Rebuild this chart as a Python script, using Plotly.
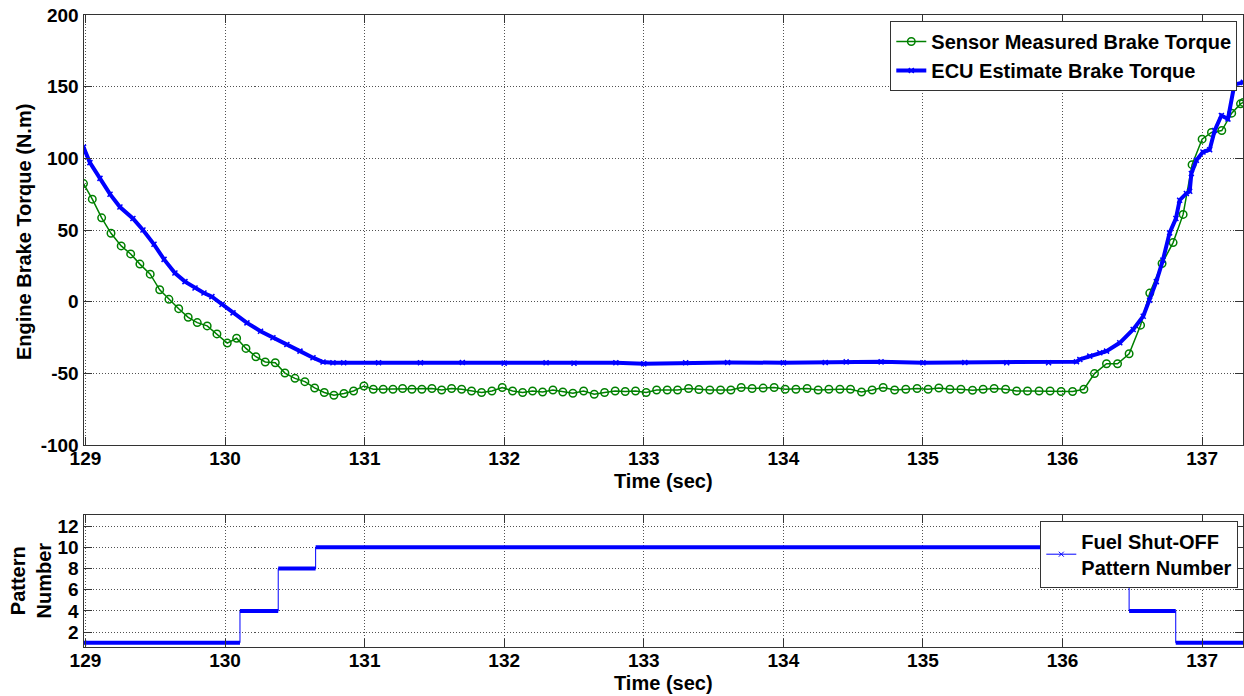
import plotly.graph_objects as go

# ---------------- data ----------------
sensor_time = [128.986, 129.049, 129.116, 129.183, 129.256, 129.324, 129.390, 129.464, 129.532, 129.598,
               129.668, 129.736, 129.801, 129.872, 129.942, 130.016, 130.083, 130.150, 130.221, 130.288,
               130.360, 130.429, 130.501, 130.572, 130.642, 130.711, 130.780, 130.852, 130.921, 130.995,
               131.062, 131.133, 131.203, 131.272, 131.339, 131.410, 131.482, 131.552, 131.623, 131.695,
               131.766, 131.838, 131.912, 131.986, 132.060, 132.132, 132.203, 132.275, 132.349, 132.420,
               132.492, 132.569, 132.645, 132.719, 132.795, 132.867, 132.941, 133.017, 133.092, 133.168,
               133.242, 133.321, 133.395, 133.473, 133.550, 133.624, 133.698, 133.776, 133.855, 133.934,
               134.013, 134.090, 134.170, 134.249, 134.326, 134.405, 134.481, 134.560, 134.636, 134.715,
               134.797, 134.877, 134.958, 135.037, 135.114, 135.193, 135.272, 135.355, 135.431, 135.510,
               135.592, 135.671, 135.749, 135.832, 135.911, 135.990, 136.072, 136.153, 136.229, 136.315,
               136.394, 136.477, 136.559, 136.625, 136.713, 136.792, 136.864, 136.928, 137.000, 137.067,
               137.141, 137.212, 137.275, 137.295]
sensor_torque = [82.4, 71.5, 58.5, 47.7, 38.9, 33.3, 26.2, 19.2, 8.3, 1.6,
                 -4.9, -10.9, -14.6, -16.9, -22.5, -28.9, -25.5, -32.6, -38.4, -42.1,
                 -42.6, -49.8, -53.5, -55.8, -60.2, -63.4, -65.3, -64.1, -62.3, -58.8,
                 -61.1, -61.1, -61.1, -60.6, -61.1, -61.1, -60.6, -61.6, -60.6, -61.1,
                 -62.3, -63.4, -62.3, -59.9, -62.3, -63.4, -62.3, -63.0, -61.6, -63.0,
                 -63.9, -62.3, -64.6, -63.4, -62.3, -62.7, -62.3, -63.4, -61.6, -61.6,
                 -61.6, -60.6, -61.3, -61.6, -61.6, -61.6, -59.9, -60.6, -60.3, -59.9,
                 -61.1, -61.1, -60.6, -61.6, -61.1, -61.1, -61.1, -63.0, -61.6, -59.9,
                 -61.6, -61.1, -60.6, -61.1, -60.2, -61.1, -61.1, -61.8, -61.1, -60.6,
                 -61.1, -62.3, -62.3, -62.3, -62.3, -62.7, -62.7, -61.1, -50.2, -43.3,
                 -43.3, -36.3, -16.4, 6.0, 26.6, 41.2, 60.9, 95.6, 113.4, 118.1,
                 119.4, 131.5, 138.0, 139.0]

ecu_time = [128.986, 129.032, 129.104, 129.176, 129.247, 129.340, 129.412, 129.491, 129.563, 129.641,
            129.713, 129.785, 129.849, 129.906, 129.978, 130.057, 130.157, 130.254, 130.343, 130.443,
            130.537, 130.630, 130.702, 130.773, 130.85, 131.1, 131.4, 131.7, 132.0, 132.3,
            132.5, 132.8, 133.0, 133.3, 133.6, 134.0, 134.3, 134.45, 134.7, 135.0,
            135.3, 135.6, 135.9, 136.100, 136.124, 136.195, 136.267, 136.315, 136.410, 136.506,
            136.578, 136.624, 136.672, 136.719, 136.767, 136.812, 136.839, 136.887, 136.911, 136.923,
            136.959, 137.006, 137.054, 137.090, 137.138, 137.185, 137.231, 137.295]
ecu_torque = [107.8, 97.0, 86.0, 75.0, 66.0, 58.0, 50.0, 40.0, 29.5, 20.0,
              14.0, 9.5, 6.0, 3.5, -2.0, -7.8, -14.8, -20.6, -25.2, -29.9,
              -34.5, -39.1, -42.1, -42.6, -42.6, -42.6, -42.6, -42.4, -43.0, -42.6,
              -43.0, -42.6, -43.3, -42.6, -42.4, -42.6, -42.4, -42.0, -42.0, -42.6,
              -42.4, -42.6, -42.6, -41.9, -40.3, -38.0, -35.6, -34.5, -28.7, -19.4,
              -10.2, 1.0, 14.0, 29.0, 48.0, 58.0, 70.8, 75.5, 77.0, 89.4,
              98.6, 104.4, 106.0, 119.4, 129.9, 127.5, 151.5, 153.0]

pattern_time = [128.986, 130.107, 130.381, 130.649, 136.477, 136.811, 137.295]
pattern_number = [1, 4, 8, 10, 4, 1, 1]

time_ticks = [129, 130, 131, 132, 133, 134, 135, 136, 137]
torque_ticks = [-100, -50, 0, 50, 100, 150, 200]
pattern_ticks = [2, 4, 6, 8, 10, 12]
time_range = [128.986, 137.295]
torque_range = [-100, 200]
pattern_range = [0.6, 13.05]

# ---------------- figure ----------------
W, H = 1244, 696
FONT = "Liberation Sans"
GREEN = "rgb(0,128,0)"
BLUE = "rgb(0,0,255)"

fig = go.Figure()

fig.add_trace(go.Scatter(
    x=sensor_time, y=sensor_torque, mode="lines+markers",
    name="<b>Sensor Measured Brake Torque</b>",
    line=dict(color=GREEN, width=1.5),
    marker=dict(symbol="circle-open", size=7.5, color=GREEN, line=dict(width=1.5, color=GREEN)),
    xaxis="x", yaxis="y", legend="legend"))

fig.add_trace(go.Scatter(
    x=ecu_time, y=ecu_torque, mode="lines+markers",
    name="<b>ECU Estimate Brake Torque</b>",
    line=dict(color=BLUE, width=4),
    marker=dict(symbol="x-thin", size=5, color=BLUE, line=dict(width=1.5, color=BLUE)),
    xaxis="x", yaxis="y", legend="legend"))

# thick horizontal parts of the pattern steps (dense samples in the original)
seg_x, seg_y = [], []
for i in range(len(pattern_time) - 1):
    seg_x += [pattern_time[i], pattern_time[i + 1], None]
    seg_y += [pattern_number[i], pattern_number[i], None]
fig.add_trace(go.Scatter(
    x=seg_x, y=seg_y, mode="lines", showlegend=False, hoverinfo="skip",
    line=dict(color=BLUE, width=4), xaxis="x2", yaxis="y2"))

fig.add_trace(go.Scatter(
    x=pattern_time, y=pattern_number, mode="lines+markers",
    name="<b>Fuel Shut-OFF<br>Pattern Number</b>",
    line=dict(color=BLUE, width=1, shape="hv"),
    marker=dict(symbol="x-thin", size=5, color=BLUE, line=dict(width=1, color=BLUE), maxdisplayed=1),
    xaxis="x2", yaxis="y2", legend="legend2"))

px_l, px_r = 83.5, 1243.3
top_t, top_b = 15, 445
bot_t, bot_b = 515, 647
xdom = [px_l / W, px_r / W]

axis_common = dict(
    automargin=False,
    showline=True, linecolor="#333333", linewidth=1, mirror="ticks",
    ticks="inside", ticklen=8, tickcolor="#333333",
    showgrid=True, gridcolor="rgba(50,50,50,0.85)", gridwidth=1, griddash="1px,2px",
    zeroline=False,
    tickfont=dict(family=FONT, size=19, color="black", weight="bold"),
)


def labels(vals):
    return [str(v) for v in vals]


fig.update_layout(
    width=W, height=H, autosize=False,
    margin=dict(l=0, r=0, t=0, b=0, autoexpand=False),
    paper_bgcolor="white", plot_bgcolor="white",
    font=dict(family=FONT, color="black"),
    xaxis=dict(domain=xdom, range=time_range, tickvals=time_ticks, ticktext=labels(time_ticks),
               anchor="y", ticklabelstandoff=-4, **axis_common),
    yaxis=dict(domain=[1 - top_b / H, 1 - top_t / H], range=torque_range, tickvals=torque_ticks,
               ticktext=labels(torque_ticks), anchor="x", **axis_common),
    xaxis2=dict(domain=xdom, range=time_range, tickvals=time_ticks, ticktext=labels(time_ticks),
                anchor="y2", ticklabelstandoff=-4, **axis_common),
    yaxis2=dict(domain=[1 - bot_b / H, 1 - bot_t / H], range=pattern_range, tickvals=pattern_ticks,
                ticktext=labels(pattern_ticks), anchor="x2", **axis_common),
    legend=dict(x=1237.3 / W, y=1 - 21 / H, xanchor="right", yanchor="top",
                bgcolor="white", bordercolor="#333333", borderwidth=1,
                font=dict(family=FONT, size=20, color="black"),
                tracegroupgap=0, itemwidth=30),
    legend2=dict(x=1238.3 / W, y=1 - 520.7 / H, xanchor="right", yanchor="top",
                 bgcolor="white", bordercolor="#333333", borderwidth=1,
                 font=dict(family=FONT, size=20, color="black"),
                 itemwidth=30),
    showlegend=True,
)

title_font = dict(family=FONT, size=20, color="black", weight="bold")
fig.add_annotation(text="Time (sec)", xref="paper", yref="paper",
                   x=(px_l + px_r) / 2 / W, y=1 - 481 / H, showarrow=False,
                   xanchor="center", yanchor="middle", font=title_font)
fig.add_annotation(text="Time (sec)", xref="paper", yref="paper",
                   x=(px_l + px_r) / 2 / W, y=1 - 683 / H, showarrow=False,
                   xanchor="center", yanchor="middle", font=title_font)
fig.add_annotation(text="Engine Brake Torque (N.m)", xref="paper", yref="paper",
                   x=24 / W, y=1 - 232 / H, showarrow=False, textangle=-90,
                   xanchor="center", yanchor="middle", font=title_font)
fig.add_annotation(text="Pattern<br>Number", xref="paper", yref="paper",
                   x=30.5 / W, y=1 - 581 / H, showarrow=False, textangle=-90,
                   xanchor="center", yanchor="middle", font=title_font)

fig.write_html(
    "out.html",
    config={"displayModeBar": False},
    post_script="document.body.style.margin='0px';document.body.style.overflow='hidden';",
)
